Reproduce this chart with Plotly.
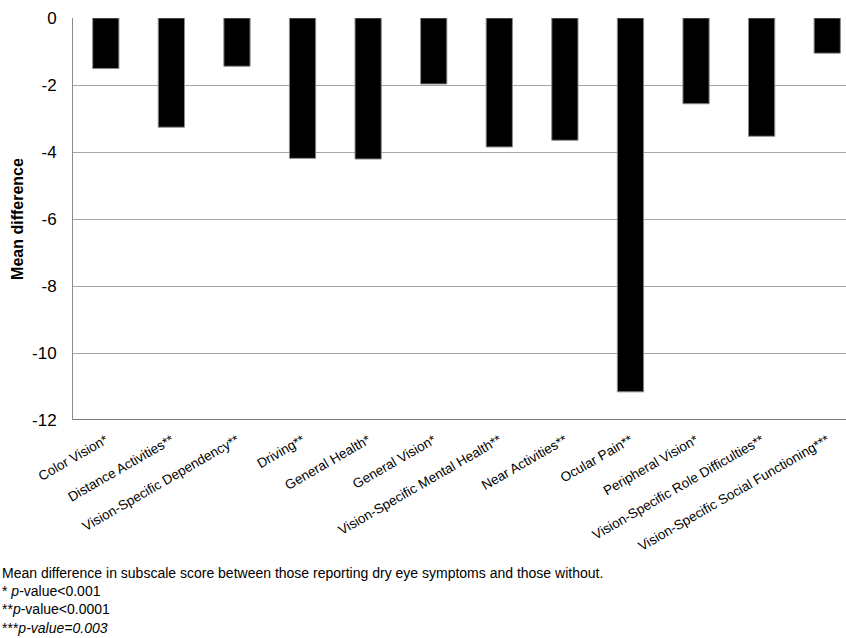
import plotly.graph_objects as go

categories = [
    "Color Vision*", "Distance Activities**", "Vision-Specific Dependency**",
    "Driving**", "General Health*", "General Vision*",
    "Vision-Specific Mental Health**", "Near Activities**", "Ocular Pain**",
    "Peripheral Vision*", "Vision-Specific Role Difficulties**",
    "Vision-Specific Social Functioning***",
]
mean_diff = [-1.51, -3.26, -1.44, -4.19, -4.21, -1.97, -3.85, -3.65, -11.16, -2.56, -3.53, -1.05]

y_tickvals = [0, -2, -4, -6, -8, -10, -12]
y_ticktext = ["0", "-2", "-4", "-6", "-8", "-10", "-12"]

footnotes = [
    "Mean difference in subscale score between those reporting dry eye symptoms and those without.",
    "* <i>p</i>-value<0.001",
    "**<i>p</i>-value<0.0001",
    "***<i>p-value=0.003</i>",
]

W, H = 846, 638
ML, MT, MB, MR = 73, 18, 218, 0
FONT = "Liberation Sans, Arial, sans-serif"

fig = go.Figure()
fig.add_trace(go.Bar(
    x=list(range(len(categories))), y=mean_diff, width=0.4,
    marker=dict(color="black", line=dict(color="#8a8a8a", width=1)),
))

plot_w = W - ML - MR
n = len(categories)
# image crops the right edge of the plot area slightly
x_right = n - 0.5 - 14 / 65.5

fig.update_layout(
    width=W, height=H,
    margin=dict(l=ML, r=MR, t=MT, b=MB, pad=0),
    paper_bgcolor="white", plot_bgcolor="white",
    showlegend=False,
    font=dict(family=FONT, color="black"),
    bargap=0.6,
)
fig.update_xaxes(
    range=[-0.5, x_right],
    tickmode="array", tickvals=list(range(n)), ticktext=categories,
    tickangle=-30, tickfont=dict(size=13.5, family=FONT),
    showgrid=False, zeroline=False,
    showline=False, ticks="outside", ticklen=6, tickcolor="rgba(0,0,0,0)",
)
fig.update_yaxes(
    range=[-12, 0], tickmode="array", tickvals=y_tickvals, ticktext=y_ticktext,
    tickfont=dict(size=17, family=FONT),
    showgrid=True, gridcolor="#a6a6a6", gridwidth=1,
    zeroline=False, showline=True, linecolor="#8a8a8a", linewidth=1,
    ticks="outside", ticklen=12, tickcolor="rgba(0,0,0,0)",
    title=dict(text="<b>Mean difference</b>", font=dict(size=16, family=FONT), standoff=4),
)
# bottom axis line (darker) at -12
fig.add_shape(type="line", xref="paper", yref="y", x0=0, x1=1, y0=-12, y1=-12,
              line=dict(color="#7a7a7a", width=2))

plot_h = H - MT - MB
fig.add_annotation(
    text="<br>".join(footnotes), xref="paper", yref="paper",
    x=-ML / plot_w, y=1 - (600 - MT) / plot_h,
    xanchor="left", yanchor="middle", align="left", showarrow=False,
    font=dict(size=14, family=FONT, color="black"),
)

fig.write_html("out.html")
